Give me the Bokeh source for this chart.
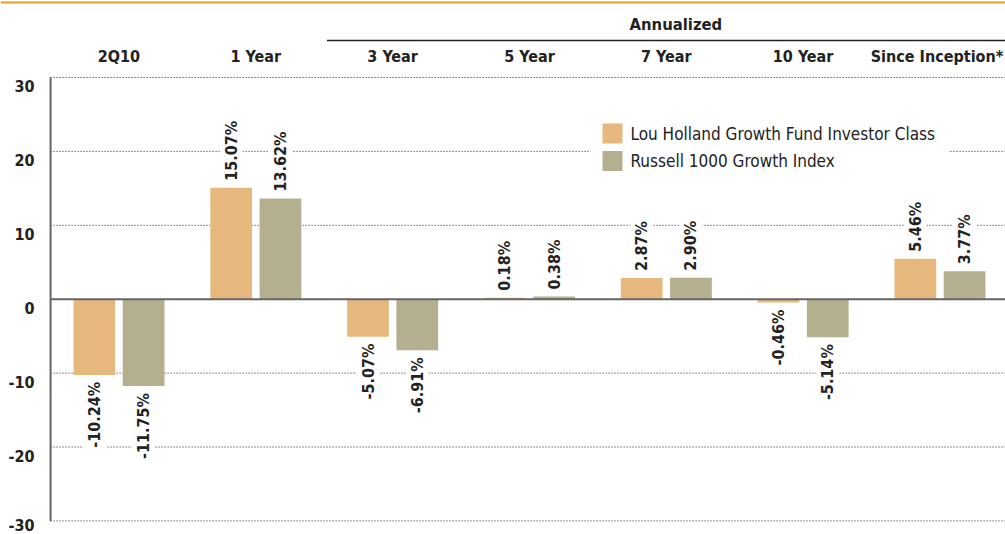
import math
from bokeh.plotting import figure
from bokeh.models import ColumnDataSource, Range1d
from bokeh.core.properties import value
from bokeh.embed import file_html
from bokeh.resources import INLINE

# ---- data ----
categories = ["2Q10", "1 Year", "3 Year", "5 Year", "7 Year", "10 Year", "Since Inception*"]
fund = [-10.24, 15.07, -5.07, 0.18, 2.87, -0.46, 5.46]
index = [-11.75, 13.62, -6.91, 0.38, 2.90, -5.14, 3.77]
fund_name = "Lou Holland Growth Fund Investor Class"
index_name = "Russell 1000 Growth Index"
y_ticks = [-30, -20, -10, 0, 10, 20, 30]
grid_levels = [-30, -20, -10, 10, 20, 30]
header_group = "Annualized"

# ---- styling / layout ----
FONT = value("DejaVu Sans Condensed")
ORANGE = "#E7B87D"
KHAKI = "#B3AF8F"
TEXT = "#222222"
AXIS = "#666666"
W, H = 1005, 534
X0, X1 = -0.866, 6.479
Y0, Y1 = -31.84, 40.42
OFF = 0.18
BW = 0.305
PPX = W / (X1 - X0)
PPY = H / (Y1 - Y0)


def dx(px):
    return X0 + px / PPX


def dy(py):
    return Y1 - py / PPY


xs = list(range(len(categories)))

p = figure(width=W, height=H, output_backend="svg", toolbar_location=None,
           x_range=Range1d(X0, X1), y_range=Range1d(Y0, Y1),
           x_axis_type=None, y_axis_type=None, min_border=0,
           outline_line_color=None, background_fill_color="white")
p.xgrid.visible = False
p.ygrid.visible = False

# dotted gridlines
p.segment(x0=[-0.5] * len(grid_levels), x1=[X1] * len(grid_levels),
          y0=grid_levels, y1=grid_levels, line_color="#1e1e1e", line_width=1,
          line_dash="1 2")

# bars
src = ColumnDataSource(dict(
    xf=[x - OFF for x in xs], xi=[x + OFF for x in xs], fund=fund, index=index,
    lf=[f"{v:.2f}%" for v in fund], li=[f"{v:.2f}%" for v in index],
    af=["left" if v >= 0 else "right" for v in fund],
    ai=["left" if v >= 0 else "right" for v in index],
    of=[-5 if v >= 0 else 5 for v in fund],
    oi=[-5 if v >= 0 else 5 for v in index],
))
p.vbar(x="xf", top="fund", bottom=0, width=BW, source=src,
       fill_color=ORANGE, line_color=None)
p.vbar(x="xi", top="index", bottom=0, width=BW, source=src,
       fill_color=KHAKI, line_color=None)

# zero line and y axis line
p.segment(x0=[-0.5], x1=[X1], y0=[0], y1=[0], line_color=AXIS, line_width=2)
p.segment(x0=[-0.5], x1=[-0.5], y0=[min(y_ticks)], y1=[max(y_ticks)],
          line_color=AXIS, line_width=2)

# value labels
for xcol, ycol, lcol, acol, ocol in [("xf", "fund", "lf", "af", "of"),
                                      ("xi", "index", "li", "ai", "oi")]:
    p.text(x=xcol, y=ycol, text=lcol, source=src, angle=math.pi / 2,
           text_align=acol, text_baseline="middle", y_offset=ocol,
           text_font=FONT, text_font_style="bold", text_font_size="16px",
           text_color=TEXT, background_fill_color="white", padding=2)

# y tick labels (sit slightly below their lines, as in the original;
# the lowest one is nudged up so it stays inside the picture)
p.text(x=[-0.5] * len(y_ticks), y=y_ticks, text=[str(t) for t in y_ticks],
       x_offset=-16, y_offset=[4, 8.5, 8.5, 8.5, 8.5, 8.5, 8.5],
       text_align="right", text_baseline="middle",
       text_font=FONT, text_font_style="bold", text_font_size="16px",
       text_color=TEXT)

# category headers
p.text(x=xs, y=[max(y_ticks)] * len(xs), text=categories, y_offset=-21.5,
       x_offset=[0, 0, 0, 0, 0, 0, -3],
       text_align="center", text_baseline="middle",
       text_font=FONT, text_font_style="bold", text_font_size="16px",
       text_color=TEXT)

# Annualized header with rule
p.text(x=[4.07], y=[max(y_ticks)], text=[header_group], y_offset=-53.5,
       text_align="center", text_baseline="middle",
       text_font=FONT, text_font_style="bold", text_font_size="16.5px",
       text_color=TEXT)
p.segment(x0=[1.52], x1=[X1], y0=[dy(40)], y1=[dy(40)], line_color=TEXT, line_width=1.5)

# orange top rule
p.segment(x0=[X0], x1=[X1], y0=[dy(2)], y1=[dy(2)], line_color="#E39B2C", line_width=2)

# legend (drawn by hand)
p.quad(left=[dx(590)], right=[dx(948)], top=[dy(111)], bottom=[dy(182)],
       fill_color="white", line_color=None)
leg_y = [dy(133), dy(160.5)]
p.rect(x=[dx(612)] * 2, y=leg_y, width=20, height=20, width_units="screen",
       height_units="screen", fill_color=[ORANGE, KHAKI], line_color=None)
p.text(x=[dx(630)] * 2, y=leg_y, text=[fund_name, index_name],
       text_align="left", text_baseline="middle",
       text_font=FONT, text_font_size="17px", text_color=TEXT)

open("out.html", "w").write(file_html(p, INLINE))
